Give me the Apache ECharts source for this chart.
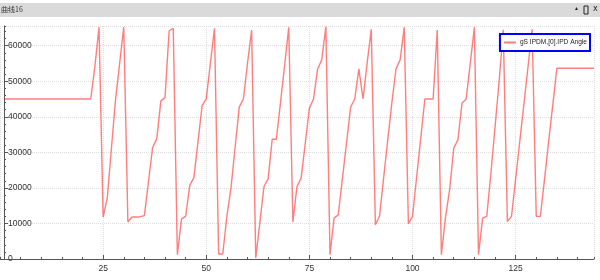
<!DOCTYPE html>
<html>
<head>
<meta charset="utf-8">
<script src="https://cdn.jsdelivr.net/npm/echarts@6/dist/echarts.min.js"></script>
<style>
html,body{margin:0;padding:0;background:#fff;}
#chart{width:600px;height:280px;}
</style>
</head>
<body>
<div id="chart"></div>
<script>
// Window title and series name
const windowTitle = '曲线16';
const seriesName = 'gS IPDM,[0].IPD Angle';

// Sample index (x) starts at 1
const angleValues = [
  45000, 45000, 45000, 45000, 45000, 45000, 45000, 45000, 45000, 45000,
  45000, 45000, 45000, 45000, 45000, 45000, 45000, 45000, 45000, 45000,
  45000, 45000,
  54100, 65200, 11800, 17100, 31000, 44700, 55000, 65200, 10400, 11800,
  11800, 11900, 12200, 21800, 31350, 33800, 44470, 45400, 64130, 64900,
  1200, 11300, 12000, 20700, 22900, 33000, 43150, 45030, 55000, 64900,
  1400, 1400, 12000, 20000, 31500, 42700, 45000, 55000, 64400, 280,
  10300, 20400, 22550, 33700, 33700, 44000, 54500, 65170, 10400, 20400,
  22750, 32500, 42400, 45000, 53450, 56000, 65340, 1200, 11500, 12450,
  22500, 32600, 42700, 45000, 53450, 45000, 55000, 64600, 9630, 12000,
  22800, 33500, 44000, 53450, 56000, 65170, 9900, 12000, 23000, 34000,
  45000, 45000, 45000, 64400, 1200, 11700, 19500, 31200, 33500, 43800,
  45000, 55000, 65170, 1200, 11500, 12000, 24000, 37000, 50000, 64500,
  10560, 12000, 22500, 33000, 43500, 54000, 64600, 12000, 12000, 22400,
  33000, 43300, 53650,
  53650, 53650, 53650, 53650, 53650, 53650, 53650, 53650, 53650
];
const xStart = 1;

// Axis ranges / ticks
const xMin = 0, xMax = 144, xMajor = 25, xMinor = 5;
const yMin = 0, yMax = 65535, yMajor = 10000, yMinor = 2000;

const seriesData = angleValues.map((v, i) => [xStart + i, v]);

const labelFont = '"Liberation Sans","Arial",sans-serif';
const axisColor = '#555';
const gridColor = '#dedede';

const chart = echarts.init(document.getElementById('chart'), null, {renderer: 'canvas'});
chart.setOption({
  animation: false,
  backgroundColor: '#ffffff',
  grid: {left: -1, right: 6, top: 26, bottom: 21, containLabel: false},
  graphic: [
    {type: 'rect', shape: {x: 0, y: 3, width: 600, height: 14}, style: {fill: '#dadada'}, z: 0},
    {type: 'text', left: 1, top: 6, style: {text: windowTitle, fontSize: 7, fill: '#333', fontFamily: '"Noto Sans CJK SC",sans-serif'}},
    {type: 'text', left: 574, top: 6, style: {text: '▲', fontSize: 5, fill: '#222'}},
    {type: 'rect', shape: {x: 584, y: 6, width: 4, height: 8}, style: {fill: 'none', stroke: '#222', lineWidth: 1}},
    {type: 'text', left: 593, top: 5, style: {text: 'x', fontSize: 8, fill: '#222', fontFamily: 'DejaVu Sans'}}
  ],
  legend: {
    show: true,
    right: 10, top: 34,
    orient: 'horizontal',
    padding: [5, 3, 5, 4],
    itemWidth: 12, itemHeight: 2, itemGap: 4,
    icon: 'rect',
    backgroundColor: '#ffffff',
    borderColor: '#0000ff', borderWidth: 2, borderRadius: 0,
    textStyle: {fontSize: 6.6, color: '#222', fontFamily: labelFont, padding: [1, 0, 0, -1]},
    data: [seriesName]
  },
  xAxis: [
    {
      type: 'value', min: xMin, max: xMax, interval: xMajor,
      axisLine: {show: true, lineStyle: {color: axisColor, width: 1}},
      axisTick: {show: true, inside: true, length: 4, lineStyle: {color: axisColor}},
      axisLabel: {show: true, margin: 5, fontSize: 8.5, color: '#333', fontFamily: labelFont, showMaxLabel: false, showMinLabel: false},
      splitLine: {show: true, lineStyle: {color: gridColor, type: 'dotted', width: 1}}
    },
    {
      type: 'value', min: xMin, max: xMax, interval: xMinor, position: 'bottom',
      axisLine: {show: false},
      axisTick: {show: true, inside: true, length: 2, lineStyle: {color: axisColor}},
      axisLabel: {show: false},
      splitLine: {show: false}
    }
  ],
  yAxis: [
    {
      type: 'value', min: yMin, max: yMax, interval: yMajor, offset: -4,
      axisLine: {show: true, lineStyle: {color: axisColor, width: 1}},
      axisTick: {show: true, inside: true, length: 4, lineStyle: {color: axisColor}},
      axisLabel: {show: true, inside: true, margin: 4, fontSize: 8.5, color: '#333', fontFamily: labelFont, showMaxLabel: false,
        formatter: (v) => String(v)},
      splitLine: {show: true, lineStyle: {color: gridColor, type: 'dotted', width: 1}}
    },
    {
      type: 'value', min: yMin, max: yMax, interval: yMinor, offset: -4, position: 'left',
      axisLine: {show: false},
      axisTick: {show: true, inside: true, length: 2, lineStyle: {color: axisColor}},
      axisLabel: {show: false},
      splitLine: {show: false}
    }
  ],
  series: [{
    name: seriesName,
    type: 'line',
    xAxisIndex: 0, yAxisIndex: 0,
    data: seriesData,
    symbol: 'none',
    showSymbol: false,
    clip: true,
    lineStyle: {color: 'rgba(255,40,40,0.6)', width: 1.4},
    itemStyle: {color: 'rgba(255,40,40,0.6)'}
  }]
});
</script>
</body>
</html>
